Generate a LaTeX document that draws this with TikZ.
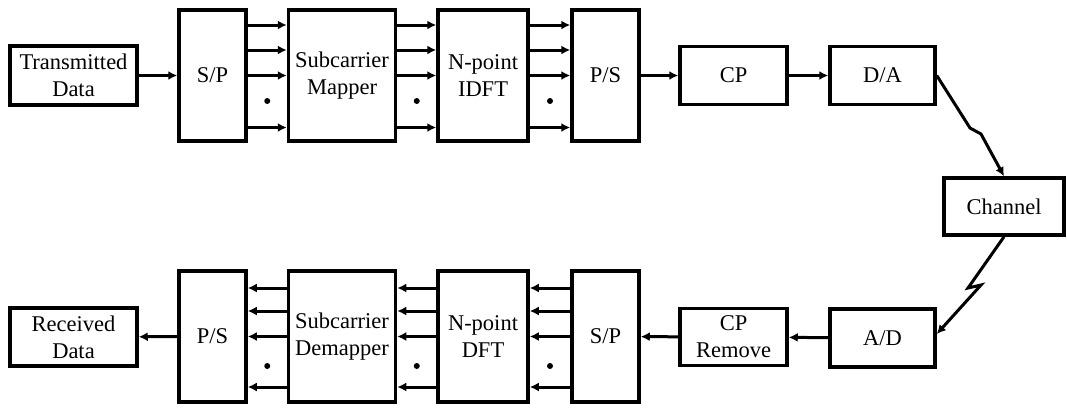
\documentclass[tikz,border=0pt]{standalone}
\usepackage{fontspec}
\setmainfont{Liberation Serif}
\usetikzlibrary{arrows.meta,calc}
\begin{document}
\begin{tikzpicture}[x=1pt,y=-1pt,
  blk/.style={draw=black,line width=3.5pt,fill=white,inner sep=0pt,align=center,
    font=\fontsize{22.5}{27}\selectfont},
  conn/.style={line width=3pt,-{Latex[length=9pt,width=9pt]}},
  dotmark/.style={circle,fill=black,inner sep=0pt,minimum size=6pt}]
\useasboundingbox (0,0) rectangle (1067,407);
% top row
\node[blk,minimum width=127,minimum height=59] (TD) at (73.5,75.5) {Transmitted\\Data};
\node[blk,minimum width=67,minimum height=131] (SPa) at (212.5,75.5) {S/P};
\node[blk,minimum width=107,minimum height=131] (SM) at (342,75.5) {Subcarrier\\Mapper};
\node[blk,minimum width=90,minimum height=131] (IDFT) at (483,75.5) {N-point\\IDFT};
\node[blk,minimum width=67,minimum height=131] (PSa) at (605.5,75.5) {P/S};
\node[blk,minimum width=107,minimum height=58] (CP) at (733.5,75.5) {CP};
\node[blk,minimum width=105,minimum height=58] (DA) at (882.5,75.5) {D/A};
% channel
\node[blk,minimum width=120,minimum height=57] (CH) at (1004,206.5) {Channel};
% bottom row
\node[blk,minimum width=127,minimum height=58] (RD) at (73.5,337) {Received\\Data};
\node[blk,minimum width=67,minimum height=131] (PSb) at (212.5,336.5) {P/S};
\node[blk,minimum width=107,minimum height=131] (SD) at (342,336.5) {Subcarrier\\Demapper};
\node[blk,minimum width=90,minimum height=131] (DFT) at (483,336.5) {N-point\\DFT};
\node[blk,minimum width=67,minimum height=131] (SPb) at (605.5,336.5) {S/P};
\node[blk,minimum width=107,minimum height=57] (CPR) at (733.5,337) {CP\\Remove};
\node[blk,minimum width=105,minimum height=58] (AD) at (882.5,338) {A/D};
% top connectors
\draw[conn] (TD) -- (SPa);
\foreach \a/\b in {SPa/SM,SM/IDFT,IDFT/PSa}{
  \foreach \dy in {-50.5,-25.5,0,52}{
    \draw[conn] ($(\a.east)+(0,\dy)$) -- ($(\b.west)+(0,\dy)$);
  }
  \node[dotmark] (dot\a) at ($(\a.east)!0.5!(\b.west)+(0,25.5)$) {};
}
\draw[conn] (PSa) -- (CP);
\draw[conn] (CP) -- (DA);
% lightning links
\coordinate (za1) at (970,128);
\coordinate (za2) at (981,134);
\draw[conn,line join=miter] (DA.east) -- (za1) -- (za2) -- (CH.north);
\coordinate (zb1) at (968,288);
\coordinate (zb2) at (981,285);
\draw[conn,line join=miter] (CH.south) -- (zb1) -- (zb2) -- ($(AD.east)+(0,-4)$);
% bottom connectors
\draw[conn] (AD) -- (CPR);
\draw[conn] (CPR) -- (SPb);
\foreach \a/\b in {SPb/DFT,DFT/SD,SD/PSb}{
  \foreach \dy in {-48.5,-25.5,0,50.5}{
    \draw[conn] ($(\a.west)+(0,\dy)$) -- ($(\b.east)+(0,\dy)$);
  }
  \node[dotmark] (dot\a) at ($(\a.west)!0.5!(\b.east)+(0,29.5)$) {};
}
\draw[conn] (PSb) -- (RD);
\end{tikzpicture}
\end{document}
